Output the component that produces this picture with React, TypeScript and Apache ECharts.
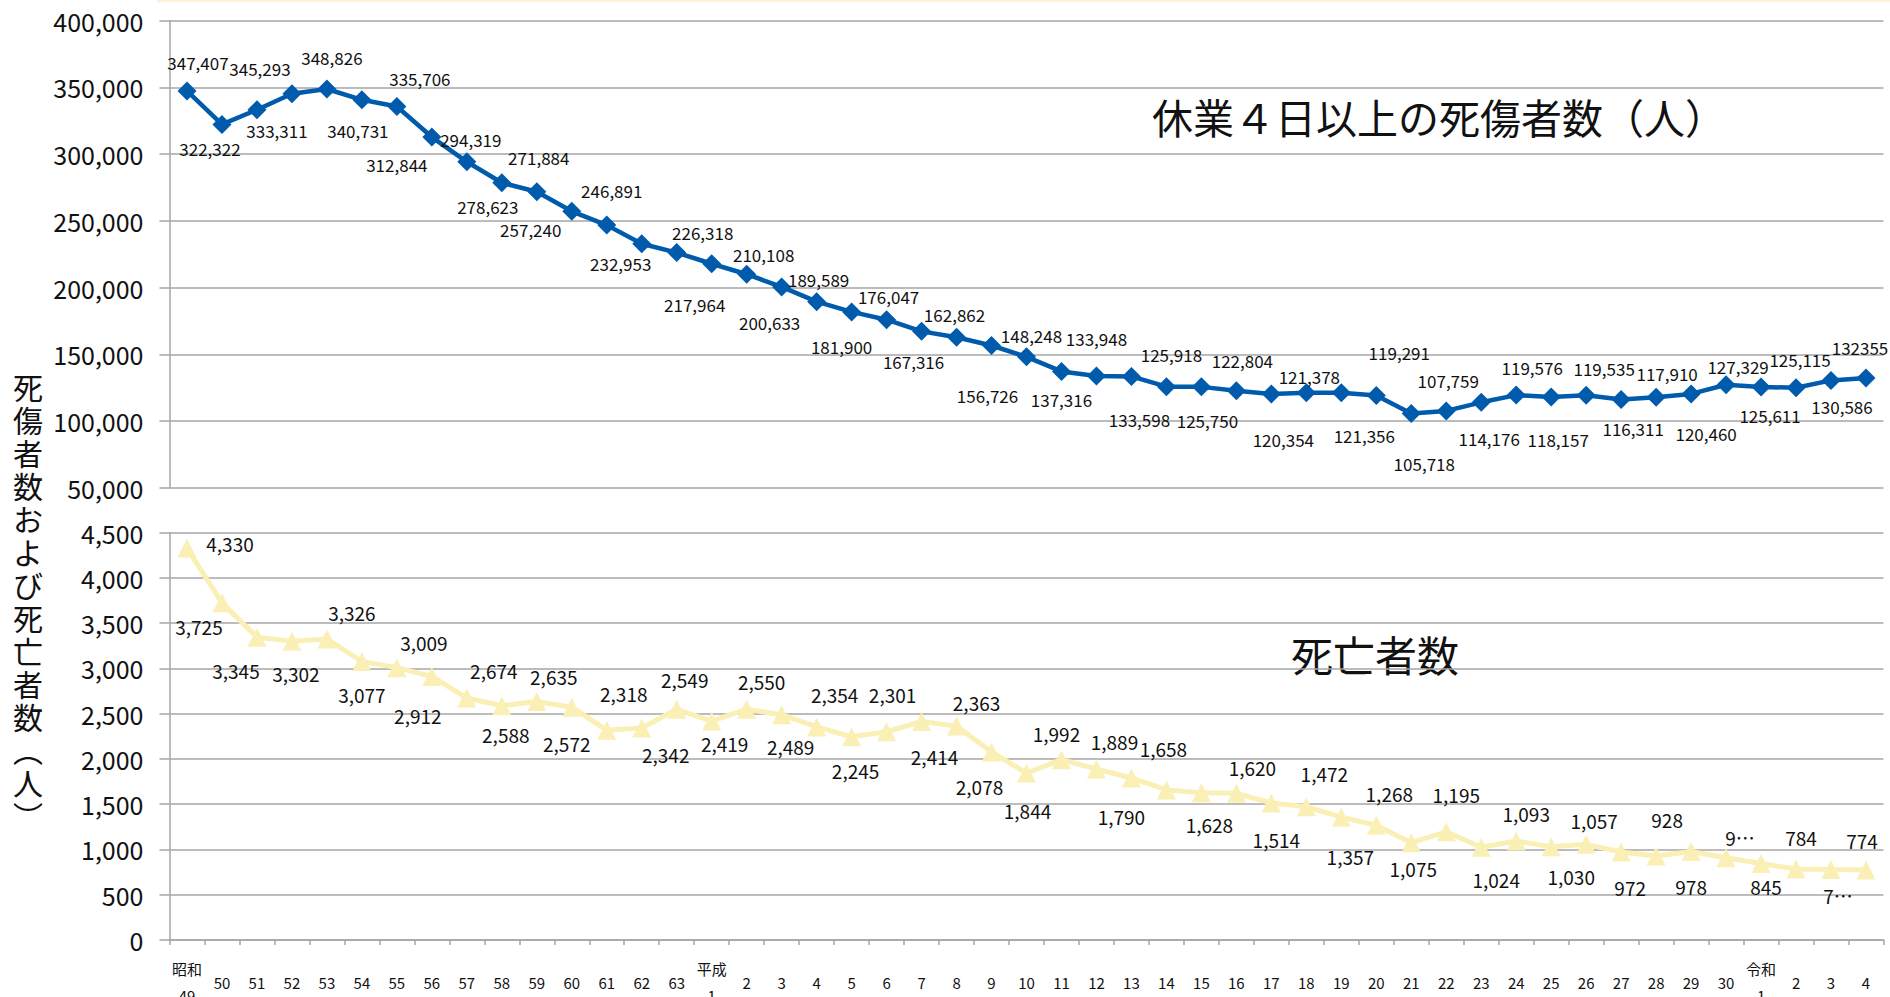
import React, { useEffect, useRef } from "react";
import * as echarts from "echarts";

const categories = [
  "昭和\n49", "50", "51", "52", "53", "54", "55", "56", "57", "58", "59", "60", "61", "62", "63",
  "平成\n1", "2", "3", "4", "5", "6", "7", "8", "9", "10", "11", "12", "13", "14", "15", "16", "17", "18", "19", "20",
  "21", "22", "23", "24", "25", "26", "27", "28", "29", "30",
  "令和\n1", "2", "3", "4",
];

// 休業4日以上の死傷者数（人）
const casualties = [
  347407, 322322, 333311, 345293, 348826, 340731, 335706, 312844, 294319, 278623, 271884, 257240, 246891, 232953, 226318,
  217964, 210108, 200633, 189589, 181900, 176047, 167316, 162862, 156726, 148248, 137316, 133948, 133598, 125918, 125750,
  122804, 120354, 121378, 121356, 119291, 105718, 107759, 114176, 119576, 118157, 119535, 116311, 117910, 120460, 127329,
  125611, 125115, 130586, 132355,
];

// 死亡者数
const deaths = [
  4330, 3725, 3345, 3302, 3326, 3077, 3009, 2912, 2674, 2588, 2635, 2572, 2318, 2342, 2549,
  2419, 2550, 2489, 2354, 2245, 2301, 2414, 2363, 2078, 1844, 1992, 1889, 1790, 1658, 1628,
  1620, 1514, 1472, 1357, 1268, 1075, 1195, 1024, 1093, 1030, 1057, 972, 928, 978, 909,
  845, 784, 780, 774,
];

const upperTicks = { min: 50000, max: 400000, interval: 50000 };
const lowerTicks = { min: 0, max: 4500, interval: 500 };

// label texts that the reference shows differently from the default format
const casualtyLabelOverrides: Record<number, string> = { 48: "132355" };
const deathLabelOverrides: Record<number, string> = { 44: "9…", 47: "7…" };

// label placement (pixel offsets from each marker)
const casualtyLabelOffsets: [number, number][] = [
  [11, -28], [-12, 24], [20, 21], [-32, -25], [5, -32], [-4, 31], [23, -28], [-35, 27], [4, -22], [-14, 24],
  [2, -34], [-41, 18], [5, -35], [-21, 20], [26, -20], [-17, 41], [17, -20], [-12, 36], [2, -22], [-10, 35],
  [2, -23], [-8, 30], [-2, -23], [-4, 50], [5, -21], [0, 28], [0, -37], [8, 43], [5, -32], [6, 34],
  [6, -30], [12, 45], [3, -16], [23, 43], [23, -43], [13, 50], [2, -30], [8, 36], [16, -28], [7, 42],
  [18, -27], [12, 29], [11, -24], [15, 40], [12, -18], [9, 28], [4, -28], [11, 26], [-6, -31],
];
const deathLabelOffsets: [number, number][] = [
  [43, -5], [-23, 24], [-21, 33], [4, 32], [25, -26], [0, 33], [27, -25], [-14, 39], [27, -27], [4, 29],
  [17, -25], [-5, 36], [17, -37], [24, 26], [8, -30], [13, 22], [15, -28], [9, 32], [18, -32], [4, 34],
  [6, -37], [13, 35], [20, -24], [-12, 35], [1, 37], [-5, -26], [18, -28], [-10, 39], [-3, -41], [8, 32],
  [16, -26], [5, 37], [18, -33], [9, 39], [13, -32], [2, 26], [10, -37], [15, 32], [10, -28], [20, 30],
  [8, -24], [9, 35], [11, -37], [0, 35], [14, -20], [5, 23], [5, -32], [7, 26], [-4, -29],
];

const FONT = '"Noto Sans CJK JP", "Noto Sans", sans-serif';
const BLUE = "#005bac";
const YELLOW = "#faf0b6";
const GRID_GRAY = "#a6a6a6";

const fmt = (v: number) => v.toLocaleString("en-US");

export default function App() {
  const ref = useRef<HTMLDivElement>(null);

  useEffect(() => {
    if (!ref.current) return;
    const chart = echarts.init(ref.current, null, { renderer: "svg" });

    const yAxisCommon = {
      type: "value" as const,
      axisLine: { show: true, lineStyle: { color: GRID_GRAY, width: 1.5 } },
      axisTick: { show: true, length: 10, lineStyle: { color: GRID_GRAY, width: 1.5 } },
      splitLine: { show: true, lineStyle: { color: GRID_GRAY, width: 1.5 } },
      axisLabel: {
        fontFamily: FONT,
        fontSize: 25,
        color: "#111",
        margin: 26,
        formatter: (v: number) => fmt(v),
      },
    };

    const option: any = {
      animation: false,
      backgroundColor: "#ffffff",
      textStyle: { fontFamily: FONT },
      grid: [
        { left: 169.5, right: 6.5, top: 20.7, height: 467.3, containLabel: false, outerBoundsMode: "none" },
        { left: 169.5, right: 6.5, top: 532.7, height: 407.3, containLabel: false, outerBoundsMode: "none" },
      ],
      xAxis: [
        {
          type: "category",
          gridIndex: 0,
          data: categories,
          boundaryGap: true,
          axisLine: { show: false },
          axisTick: { show: false },
          axisLabel: { show: false },
          splitLine: { show: false },
        },
        {
          type: "category",
          gridIndex: 1,
          data: categories,
          boundaryGap: true,
          axisLine: { show: true, lineStyle: { color: GRID_GRAY, width: 1.5 } },
          axisTick: { show: true, length: 5, interval: 0, lineStyle: { color: GRID_GRAY, width: 1.5 } },
          axisLabel: {
            interval: 0,
            fontFamily: FONT,
            fontSize: 15,
            color: "#111",
            lineHeight: 27,
            verticalAlign: "middle",
            margin: 42,
          },
          splitLine: { show: false },
        },
      ],
      yAxis: [
        { ...yAxisCommon, gridIndex: 0, min: upperTicks.min, max: upperTicks.max, interval: upperTicks.interval },
        { ...yAxisCommon, gridIndex: 1, min: lowerTicks.min, max: lowerTicks.max, interval: lowerTicks.interval },
      ],
      series: [
        {
          name: "休業4日以上の死傷者数",
          type: "line",
          xAxisIndex: 0,
          yAxisIndex: 0,
          symbol: "diamond",
          symbolSize: 19,
          itemStyle: { color: BLUE },
          lineStyle: { color: BLUE, width: 4.5 },
          z: 3,
          label: {
            show: true,
            position: "inside",
            fontFamily: FONT,
            fontSize: 17,
            color: "#111",
            textBorderWidth: 0,
            formatter: (p: any) => casualtyLabelOverrides[p.dataIndex] ?? fmt(p.value),
          },
          data: casualties.map((v, i) => ({ value: v, label: { offset: casualtyLabelOffsets[i] } })),
        },
        {
          name: "死亡者数",
          type: "line",
          xAxisIndex: 1,
          yAxisIndex: 1,
          symbol: "triangle",
          symbolSize: [19, 19],
          itemStyle: { color: YELLOW },
          lineStyle: { color: YELLOW, width: 5 },
          z: 3,
          label: {
            show: true,
            position: "inside",
            fontFamily: FONT,
            fontSize: 19,
            color: "#111",
            textBorderWidth: 0,
            formatter: (p: any) => deathLabelOverrides[p.dataIndex] ?? fmt(p.value),
          },
          data: deaths.map((v, i) => ({ value: v, label: { offset: deathLabelOffsets[i] } })),
        },
      ],
      graphic: [
        {
          type: "rect",
          shape: { x: 157, y: 0, width: 1733, height: 2 },
          style: { fill: "#fcf3d4" },
          silent: true,
        },
        {
          type: "text",
          x: 1152,
          y: 116,
          style: {
            text: "休業４日以上の死傷者数（人）",
            font: `41px ${FONT}`,
            fill: "#111",
            textAlign: "left",
            textVerticalAlign: "middle",
          },
        },
        {
          type: "text",
          x: 1291,
          y: 653,
          style: {
            text: "死亡者数",
            font: `42px ${FONT}`,
            fill: "#111",
            textAlign: "left",
            textVerticalAlign: "middle",
          },
        },
        {
          type: "text",
          x: 28,
          y: 600,
          style: {
            text: "死傷者数および死亡者数︵人︶".split("").join("\n"),
            fontFamily: FONT,
            fontSize: 30,
            lineHeight: 33,
            fill: "#111",
            textAlign: "center",
            textVerticalAlign: "middle",
          },
        },
      ],
    };

    chart.setOption(option);
    return () => chart.dispose();
  }, []);

  return (
    <div
      ref={ref}
      style={{ position: "absolute", left: 0, top: 0, width: 1890, height: 997, background: "#fff" }}
    />
  );
}
